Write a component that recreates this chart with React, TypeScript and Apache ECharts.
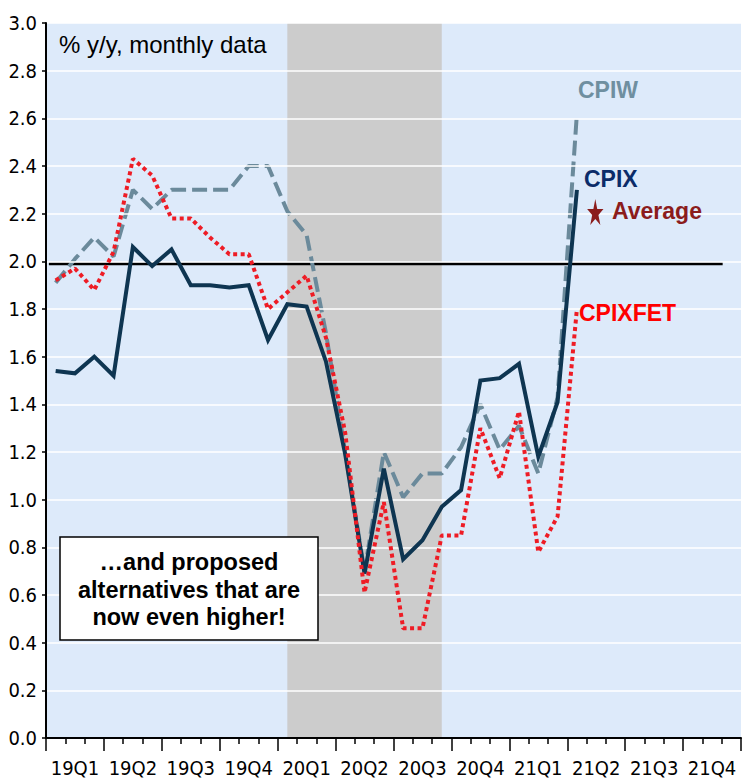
import React, { useEffect, useRef } from "react";
import * as echarts from "echarts";

// ---- Data (monthly, Jan 2019 .. Apr 2021) ----
const monthLabels = [
  "2019-01","2019-02","2019-03","2019-04","2019-05","2019-06","2019-07","2019-08","2019-09","2019-10","2019-11","2019-12",
  "2020-01","2020-02","2020-03","2020-04","2020-05","2020-06","2020-07","2020-08","2020-09","2020-10","2020-11","2020-12",
  "2021-01","2021-02","2021-03","2021-04",
];
const cpix = [
  1.54, 1.53, 1.60, 1.52, 2.06, 1.98, 2.05, 1.90, 1.90, 1.89, 1.90, 1.67,
  1.82, 1.81, 1.58, 1.19, 0.69, 1.13, 0.75, 0.83, 0.97, 1.04, 1.50, 1.51,
  1.57, 1.18, 1.41, 2.30,
];
const cpiw = [
  1.91, 2.01, 2.10, 2.02, 2.30, 2.22, 2.30, 2.30, 2.30, 2.30, 2.40, 2.40,
  2.21, 2.11, 1.70, 1.20, 0.70, 1.20, 1.01, 1.11, 1.11, 1.22, 1.40, 1.21,
  1.31, 1.11, 1.43, 2.62,
];
const cpixfet = [
  1.92, 1.97, 1.88, 2.04, 2.43, 2.36, 2.18, 2.18, 2.10, 2.03, 2.03, 1.80,
  1.87, 1.94, 1.68, 1.28, 0.61, 0.99, 0.46, 0.46, 0.85, 0.85, 1.30, 1.09,
  1.37, 0.78, 0.93, 1.80,
];
const averageValue = 1.99;
const averageSpan = [0.15, 35.05]; // in month units along the x axis
const recession = [12.5, 20.5]; // shaded period, month units
const quarterLabels = [
  "19Q1","19Q2","19Q3","19Q4","20Q1","20Q2","20Q3","20Q4","21Q1","21Q2","21Q3","21Q4",
];
const totalMonths = 36;

const NARROW = "'Liberation Sans Narrow', 'Arial Narrow', 'DejaVu Sans Condensed', sans-serif";
const SANS = "'Liberation Sans', Arial, Helvetica, sans-serif";

function toPairs(values: number[]) {
  return values.map((v, i) => [i + 0.5, v]);
}

function starPoints(cx: number, cy: number, rx: number, ry: number) {
  const pts: number[][] = [];
  for (let k = 0; k < 10; k++) {
    const ang = -Math.PI / 2 + (k * Math.PI) / 5;
    const r = k % 2 === 0 ? 1 : 0.382;
    pts.push([cx + Math.cos(ang) * rx * r, cy + Math.sin(ang) * ry * r]);
  }
  return pts;
}

export default function App() {
  const ref = useRef<HTMLDivElement>(null);

  useEffect(() => {
    if (!ref.current) return;
    const chart = echarts.init(ref.current, undefined, { renderer: "svg" });

    const labelText = (text: string, x: number, y: number, fill: string, bold = true, size = 23) => ({
      type: "text",
      x,
      y,
      z: 50,
      style: {
        text,
        fill,
        font: `${bold ? "bold " : ""}${size}px ${SANS}`,
        align: "left",
        textAlign: "left",
        verticalAlign: "middle",
        textVerticalAlign: "middle",
      },
    });

    const option: any = {
      animation: false,
      backgroundColor: "#ffffff",
      grid: { left: 46, right: 5, top: 23, bottom: 42, containLabel: false },
      xAxis: [
        {
          type: "value",
          min: 0,
          max: totalMonths,
          interval: 3,
          position: "bottom",
          axisLine: { show: true, onZero: false, lineStyle: { color: "#000", width: 2 } },
          axisTick: { show: true, length: 13, lineStyle: { color: "#000", width: 1.5 } },
          minorTick: { show: true, splitNumber: 3, length: 6, lineStyle: { color: "#000", width: 1.5 } },
          axisLabel: { show: false },
          splitLine: { show: false },
          minorSplitLine: { show: false },
          z: 5,
        },
        {
          type: "value",
          min: 0,
          max: totalMonths,
          interval: 6,
          position: "bottom",
          axisLine: { show: false },
          axisTick: { show: false },
          axisLabel: { show: false },
          splitLine: { show: true, lineStyle: { color: "#ffffff", width: 1.5 } },
        },
        {
          type: "category",
          data: quarterLabels,
          boundaryGap: true,
          position: "bottom",
          axisLine: { show: false },
          axisTick: { show: false },
          splitLine: { show: false },
          axisLabel: {
            show: true,
            interval: 0,
            margin: 20,
            color: "#000",
            fontFamily: NARROW,
            fontSize: 20,
          },
        },
      ],
      yAxis: {
        type: "value",
        min: 0,
        max: 3,
        interval: 0.2,
        axisLine: { show: true, onZero: false, lineStyle: { color: "#000", width: 2 } },
        axisTick: { show: true, inside: false, length: 4, lineStyle: { color: "#000", width: 1.5 } },
        axisLabel: {
          margin: 9,
          color: "#000",
          fontFamily: NARROW,
          fontSize: 20,
          formatter: (v: number) => v.toFixed(1),
        },
        splitLine: { show: true, lineStyle: { color: "#ffffff", width: 1.5 } },
        z: 5,
      },
      series: [
        {
          name: "bands",
          type: "line",
          xAxisIndex: 0,
          data: [],
          z: -1,
          silent: true,
          markArea: {
            silent: true,
            data: [
              [
                { xAxis: 0, yAxis: 0, itemStyle: { color: "#DDEAFA" } },
                { xAxis: totalMonths, yAxis: 3 },
              ],
              [
                { xAxis: recession[0], yAxis: 0, itemStyle: { color: "#CCCCCC" } },
                { xAxis: recession[1], yAxis: 3 },
              ],
            ],
          },
        },
        {
          name: "Average",
          type: "line",
          xAxisIndex: 0,
          data: averageSpan.map((x) => [x, averageValue]),
          showSymbol: false,
          symbol: "none",
          lineStyle: { color: "#000", width: 3 },
          z: 3,
        },
        {
          name: "CPIW",
          type: "line",
          xAxisIndex: 0,
          data: toPairs(cpiw),
          symbol: "none",
          lineStyle: { color: "#6B8A9B", width: 4, type: [15, 6] },
          z: 4,
        },
        {
          name: "CPIX",
          type: "line",
          xAxisIndex: 0,
          data: toPairs(cpix),
          symbol: "none",
          lineStyle: { color: "#0E3551", width: 4, join: "miter" },
          z: 5,
        },
        {
          name: "CPIXFET",
          type: "line",
          xAxisIndex: 0,
          data: toPairs(cpixfet),
          symbol: "none",
          lineStyle: { color: "#EE1C25", width: 4, type: [4, 3.5] },
          z: 6,
        },
      ],
      graphic: [
        labelText("% y/y, monthly data", 59, 44, "#000", false, 24),
        labelText("CPIW", 578, 90, "#6F8FA0"),
        labelText("CPIX", 584, 179, "#0B2C69"),
        labelText("Average", 612, 211, "#8B1C1C"),
        labelText("CPIXFET", 579, 313, "#FF0000"),
        {
          type: "polygon",
          z: 50,
          shape: { points: starPoints(595.3, 213.4, 8.6, 14.4) },
          style: { fill: "#8B1C1C" },
        },
        {
          type: "rect",
          z: 50,
          shape: { x: 60, y: 537, width: 258, height: 103 },
          style: { fill: "#ffffff", stroke: "#000", lineWidth: 1.5 },
        },
        {
          type: "text",
          x: 189,
          y: 589.5,
          z: 51,
          style: {
            text: "\u2026and proposed\nalternatives that are\nnow even higher!",
            fill: "#000",
            font: `bold 23.5px ${SANS}`,
            lineHeight: 27.5,
            align: "center",
            textAlign: "center",
            verticalAlign: "middle",
            textVerticalAlign: "middle",
          },
        },
      ],
    };

    chart.setOption(option);
    return () => chart.dispose();
  }, []);

  return (
    <div
      ref={ref}
      style={{ position: "fixed", left: 0, top: 0, width: 746, height: 780 }}
    />
  );
}
